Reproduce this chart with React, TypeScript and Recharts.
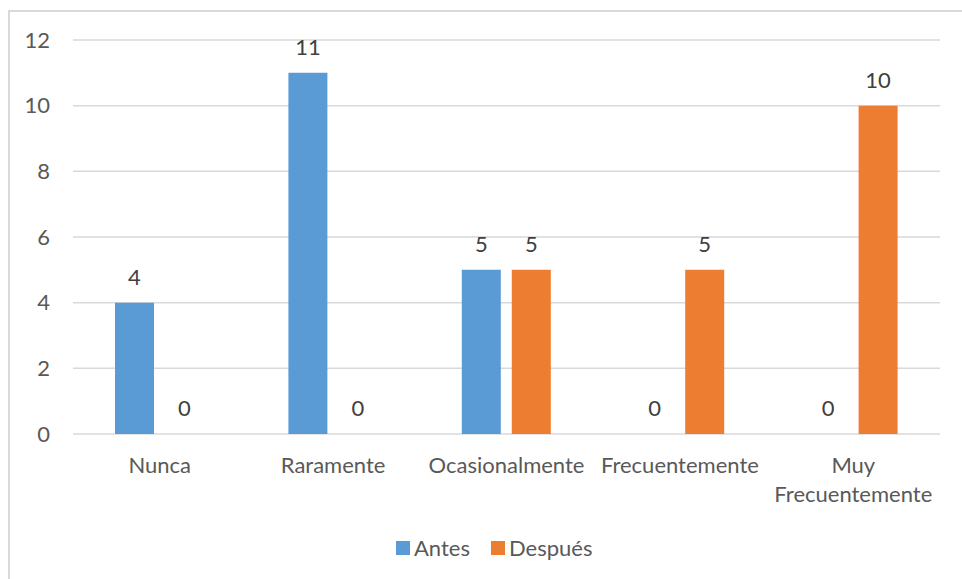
import { BarChart, Bar, XAxis, YAxis, CartesianGrid, LabelList, Legend, Text } from 'recharts'

const categories = ['Nunca', 'Raramente', 'Ocasionalmente', 'Frecuentemente', 'Muy Frecuentemente']
const antes = [4, 11, 5, 0, 0]
const despues = [0, 0, 5, 5, 10]
const yTicks = [0, 2, 4, 6, 8, 10, 12]

const FONT = 'Lato, "Open Sans", sans-serif'
const AXIS_COLOR = '#595959'
const BLUE = '#5B9BD5'
const ORANGE = '#ED7D31'

const data = categories.map((name, i) => ({ name, antes: antes[i], despues: despues[i] }))

// category labels wrap inside the band width, two lines for the long one
const CategoryTick = ({ x, y, payload }: { x?: number; y?: number; payload?: { value: string } }) => (
  <Text
    x={x}
    y={y}
    width={170}
    lineHeight={29}
    textAnchor="middle"
    verticalAnchor="start"
    fill={AXIS_COLOR}
    fontSize={22}
    fontFamily={FONT}
    style={{ fontSize: '22px', fontFamily: FONT }}
  >
    {payload?.value}
  </Text>
)

const LegendRow = () => {
  const items = [
    { label: 'Antes', color: BLUE },
    { label: 'Después', color: ORANGE },
  ]
  return (
    <div style={{ display: 'flex', alignItems: 'center', gap: 21, fontFamily: FONT, fontSize: 22, color: AXIS_COLOR }}>
      {items.map((item) => (
        <div key={item.label} style={{ display: 'flex', alignItems: 'center', gap: 4 }}>
          <div style={{ width: 14, height: 14, backgroundColor: item.color }} />
          <span>{item.label}</span>
        </div>
      ))}
    </div>
  )
}

export default function App() {
  return (
    <div style={{ position: 'absolute', top: 0, left: 0, width: 962, height: 579, overflow: 'hidden', background: '#fff' }}>
      <div
        style={{
          position: 'absolute',
          left: 8,
          top: 10,
          width: 1000,
          height: 600,
          borderLeft: '2px solid #d9d9d9',
          borderTop: '2px solid #d9d9d9',
        }}
      />
      <BarChart
        width={962}
        height={579}
        data={data}
        margin={{ top: 40, right: 22, left: 0, bottom: 85 }}
        barSize={39}
        barGap={11}
        style={{ position: 'absolute', top: 0, left: 0 }}
      >
        <CartesianGrid vertical={false} stroke="#d9d9d9" strokeWidth={1.5} />
        <XAxis
          dataKey="name"
          axisLine={false}
          tickLine={false}
          tickSize={0}
          tickMargin={23}
          height={60}
          interval={0}
          tick={<CategoryTick />}
        />
        <YAxis
          domain={[0, 12]}
          ticks={yTicks}
          width={73}
          axisLine={false}
          tickLine={false}
          tickSize={0}
          tickMargin={23}
          tick={{ fill: AXIS_COLOR, fontSize: 22, fontFamily: FONT }}
        />
        <Legend
          layout="horizontal"
          verticalAlign="middle"
          align="center"
          content={<LegendRow />}
          wrapperStyle={{ top: 534, left: 396, width: 'auto' }}
        />
        {/* tiny minPointSize keeps zero bars in the layout so their "0" labels still show */}
        <Bar dataKey="antes" name="Antes" fill={BLUE} minPointSize={0.01} isAnimationActive={false}>
          <LabelList dataKey="antes" position="top" offset={18} fill="#404040" fontSize={22} fontFamily={FONT} />
        </Bar>
        <Bar dataKey="despues" name="Después" fill={ORANGE} minPointSize={0.01} isAnimationActive={false}>
          <LabelList dataKey="despues" position="top" offset={18} fill="#404040" fontSize={22} fontFamily={FONT} />
        </Bar>
      </BarChart>
    </div>
  )
}
